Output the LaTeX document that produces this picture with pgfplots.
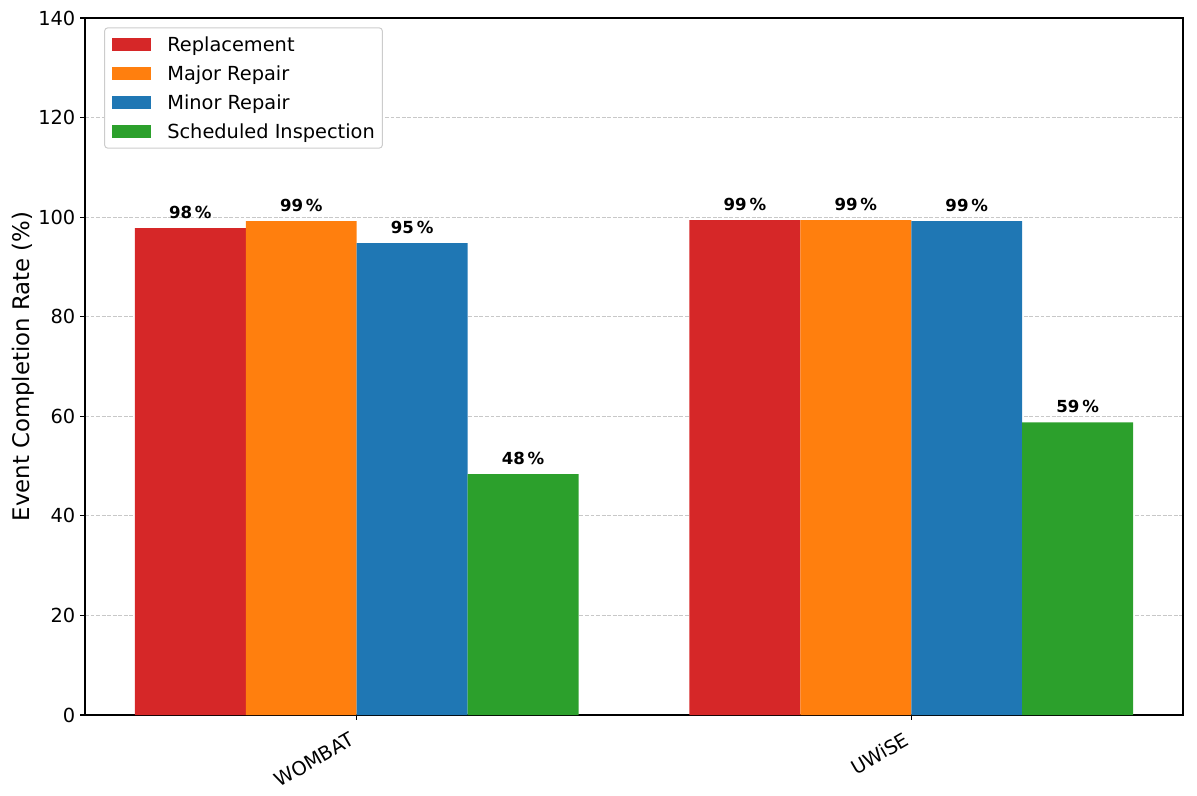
\documentclass[border=0pt]{standalone}
\usepackage{fontspec}
\setmainfont{DejaVu Sans}
\usepackage{pgfplots}
\pgfplotsset{compat=1.18}
\definecolor{cRep}{HTML}{D62728}
\definecolor{cMaj}{HTML}{FF7F0E}
\definecolor{cMin}{HTML}{1F77B4}
\definecolor{cSch}{HTML}{2CA02C}
\definecolor{cGrid}{RGB}{200,200,200}
\definecolor{cLeg}{RGB}{204,204,204}
\pgfplotsset{
  layers/mylayers/.define layer set={axis background,axis grid,main,axis ticks,axis lines,axis tick labels,axis descriptions,axis foreground}{},
}
\begin{document}
\begin{tikzpicture}
\begin{axis}[
  set layers=mylayers,
  at={(0,0)}, anchor=south west,
  width=790.56bp, height=501.84bp, scale only axis,
  xmin=-0.49, xmax=1.49, ymin=0, ymax=140,
  xtick={0,1}, xticklabels={WOMBAT,UWiSE},
  ytick={0,20,40,60,80,100,120,140},
  /pgf/number format/assume math mode=true,
  tick align=outside, tick pos=left,
  major tick length=3.5bp,
  every tick/.style={black, line width=0.8bp},
  axis line style={line width=0.8bp, black},
  ymajorgrids,
  grid style={cGrid, line width=0.6bp, dash pattern=on 2.8bp off 1.2bp},
  tick label style={font=\fontsize{14}{16}\selectfont},
  xticklabel style={rotate=30, anchor=north east, inner sep=0pt, xshift=-9bp, yshift=-4bp},
  ylabel={Event Completion Rate (\%)},
  ylabel style={font=\fontsize{16.5}{19}\selectfont, at={(axis description cs:-0.0503,0.5)}, anchor=base},
  nodes near coords={\pgfmathprintnumber[fixed,precision=0]{\pgfplotspointmeta}\,\%},
  every node near coord/.append style={font=\fontsize{12}{14}\selectfont\bfseries, anchor=south, inner sep=0pt, yshift=6.5bp, black},
  legend cell align=left,
  legend style={at={(0,1)}, anchor=north west, xshift=13.7bp, yshift=-6.7bp,
    draw=cLeg, line width=0.7bp, rounded corners=2.5bp, fill=white,
    font=\fontsize{14}{16}\selectfont,
    inner xsep=5.5bp, inner ysep=4.75bp, row sep=6.4bp,
    nodes={inner sep=0pt, text height=12bp, text depth=2.5bp, anchor=west},
    /tikz/every odd column/.append style={column sep=11.7bp}},
]
\addplot[ybar, bar width=0.2, bar shift=0, fill=cRep, draw=none,
  legend image code/.code={\fill[cRep, sharp corners] (0bp,-4.95bp) rectangle (28bp,4.95bp);}]
  coordinates {(-0.3,97.8) (0.7,99.4)};
\addlegendentry{Replacement}
\addplot[ybar, bar width=0.2, bar shift=0, fill=cMaj, draw=none,
  legend image code/.code={\fill[cMaj, sharp corners] (0bp,-4.95bp) rectangle (28bp,4.95bp);}]
  coordinates {(-0.1,99.2) (0.9,99.4)};
\addlegendentry{Major Repair}
\addplot[ybar, bar width=0.2, bar shift=0, fill=cMin, draw=none,
  legend image code/.code={\fill[cMin, sharp corners] (0bp,-4.95bp) rectangle (28bp,4.95bp);}]
  coordinates {(0.1,94.8) (1.1,99.2)};
\addlegendentry{Minor Repair}
\addplot[ybar, bar width=0.2, bar shift=0, fill=cSch, draw=none,
  legend image code/.code={\fill[cSch, sharp corners] (0bp,-4.95bp) rectangle (28bp,4.95bp);}]
  coordinates {(0.3,48.4) (1.3,58.8)};
\addlegendentry{Scheduled Inspection}
\end{axis}
\pgfresetboundingbox
\useasboundingbox (-61.2bp,-57.6bp) rectangle (800.64bp,514.8bp);
\end{tikzpicture}
\end{document}
